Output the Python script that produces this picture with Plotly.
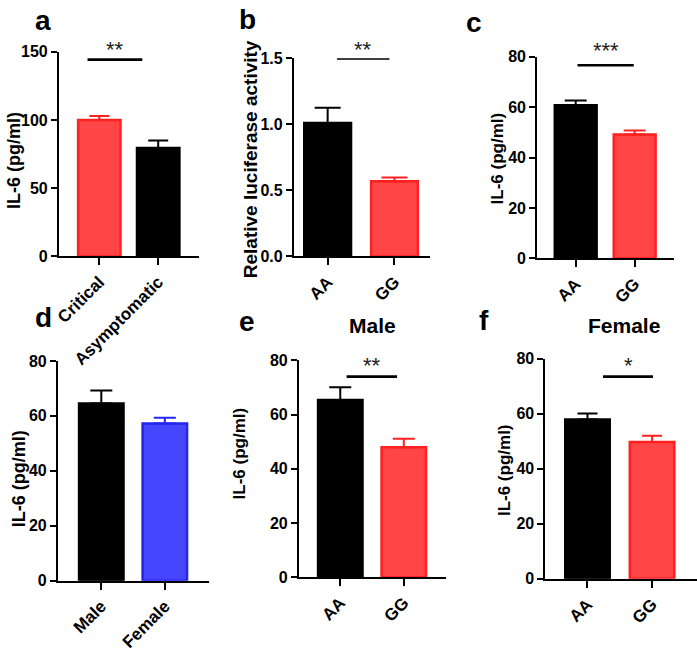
import plotly.graph_objects as go

W, H = 697, 655
FONT = 'Liberation Sans, Arial, sans-serif'
RED, RED_EDGE = '#FF4545', '#FF2020'
BLUE, BLUE_EDGE = '#4646FF', '#2525F2'
BLACK = '#000000'

# ---- values (mean, upper SEM) ----
sev_groups = ['Critical', 'Asymptomatic']
sev_il6 = [100.0, 79.4]
sev_sem = [2.9, 5.6]

luc_groups = ['AA', 'GG']
luc_activity = [1.01, 0.57]
luc_sem = [0.115, 0.027]

geno_groups = ['AA', 'GG']
geno_il6 = [60.7, 49.1]
geno_sem = [1.9, 1.6]

sex_groups = ['Male', 'Female']
sex_il6 = [64.5, 57.2]
sex_sem = [4.7, 2.1]

male_il6 = [65.4, 47.9]
male_sem = [4.7, 3.2]

female_il6 = [57.9, 49.7]
female_sem = [2.2, 2.3]

# significance brackets: x from, x to, height, stars
sig_a = ([-0.2, 0.73], 144.3, '**')
sig_b = ([0.14, 0.925], 1.5, '**')
sig_c = ([0.03, 0.985], 76.6, '***')
sig_e = ([0.10, 0.895], 74.0, '**')
sig_f = ([0.24, 1.015], 73.5, '*')

panels = [
    dict(letter='a', groups=sev_groups, vals=sev_il6, sem=sev_sem,
         fill=[RED, BLACK], edge=[RED_EDGE, BLACK], yr=[0, 150], dtick=50, fmt='',
         sig=sig_a, ytitle='IL-6 (pg/ml)', title=None,
         box=(54.3, 195, 45, 255), xr=[-0.686, 1.686], bw=0.72, cap=10,
         ypos=(9, 156), ysize=18, lpos=(38, 12), tpos=None, star_dy=16),
    dict(letter='b', groups=luc_groups, vals=luc_activity, sem=luc_sem,
         fill=[BLACK, RED], edge=[BLACK, RED_EDGE], yr=[0, 1.5], dtick=0.5, fmt='.1f',
         sig=sig_b, ytitle='Relative luciferase activity', title=None,
         box=(291, 428.3, 51.7, 255), xr=[-0.505, 1.535], bw=0.70, cap=13,
         ypos=(248, 155), ysize=19, lpos=(244, 11), tpos=None, star_dy=15),
    dict(letter='c', groups=geno_groups, vals=geno_il6, sem=geno_sem,
         fill=[BLACK, RED], edge=[BLACK, RED_EDGE], yr=[0, 80], dtick=20, fmt='',
         sig=sig_c, ytitle='IL-6 (pg/ml)', title=None,
         box=(536, 674, 50, 257), xr=[-0.654, 1.670], bw=0.71, cap=11,
         ypos=(496, 154), ysize=17, lpos=(472, 14), tpos=None, star_dy=21),
    dict(letter='d', groups=sex_groups, vals=sex_il6, sem=sex_sem,
         fill=[BLACK, BLUE], edge=[BLACK, BLUE_EDGE], yr=[0, 80], dtick=20, fmt='',
         sig=None, ytitle='IL-6 (pg/ml)', title=None,
         box=(53.3, 205, 362.3, 588), xr=[-0.683, 1.688], bw=0.70, cap=11,
         ypos=(15, 483), ysize=18, lpos=(39, 317), tpos=None, star_dy=0),
    dict(letter='e', groups=geno_groups, vals=male_il6, sem=male_sem,
         fill=[BLACK, RED], edge=[BLACK, RED_EDGE], yr=[0, 80], dtick=20, fmt='',
         sig=sig_e, ytitle='IL-6 (pg/ml)', title='Male',
         box=(296, 444, 361.7, 584.3), xr=[-0.652, 1.662], bw=0.70, cap=11,
         ypos=(236, 457), ysize=17, lpos=(244, 321), tpos=(370, 326), star_dy=17),
    dict(letter='f', groups=geno_groups, vals=female_il6, sem=female_sem,
         fill=[BLACK, RED], edge=[BLACK, RED_EDGE], yr=[0, 80], dtick=20, fmt='',
         sig=sig_f, ytitle='IL-6 (pg/ml)', title='Female',
         box=(544.3, 697, 360, 586), xr=[-0.652, 1.696], bw=0.69, cap=10,
         ypos=(503, 474), ysize=17, lpos=(482, 320), tpos=(623, 326), star_dy=17),
]


def px(x):
    return x / W


def py(y):
    return 1 - y / H


fig = go.Figure()
annotations = []
ytick_font = dict(family=FONT, size=16, color='black', weight='bold')
xtick_font = dict(family=FONT, size=17, color='black', weight='bold')

for i, p in enumerate(panels, start=1):
    xa = 'x' if i == 1 else f'x{i}'
    ya = 'y' if i == 1 else f'y{i}'
    # one trace per bar so each gets its own error-bar colour
    for j, g in enumerate(p['groups']):
        fig.add_trace(go.Bar(
            x=[j], y=[p['vals'][j]], width=p['bw'],
            marker=dict(color=p['fill'][j], line=dict(color=p['edge'][j], width=2.5)),
            error_y=dict(type='data', symmetric=False, array=[p['sem'][j]],
                         arrayminus=[0], color=p['edge'][j], thickness=2, width=p['cap']),
            xaxis=xa, yaxis=ya, showlegend=False,
        ))
    if p['sig']:
        sx, sy, stars = p['sig']
        fig.add_trace(go.Scatter(
            x=sx, y=[sy, sy], mode='lines', line=dict(color=BLACK, width=2.7),
            xaxis=xa, yaxis=ya, showlegend=False, cliponaxis=False,
        ))
        annotations.append(dict(
            x=sum(sx) / 2, y=sy, xref=xa, yref=ya, text=stars, showarrow=False,
            yanchor='middle', yshift=p['star_dy'] - 6,
            font=dict(family=FONT, size=22, color='#222222'),
        ))

    x0, x1, top, bottom = p['box']
    fig.update_layout({
        ('xaxis' if i == 1 else f'xaxis{i}'): dict(
            domain=[px(x0), min(px(x1), 1)], anchor=ya, range=p['xr'],
            tickvals=list(range(len(p['groups']))), ticktext=p['groups'],
            tickangle=-45, tickfont=xtick_font,
            showline=True, linecolor=BLACK, linewidth=2,
            ticks='outside', ticklen=7, tickwidth=2, tickcolor=BLACK,
            showgrid=False, zeroline=False, fixedrange=True,
        ),
        ('yaxis' if i == 1 else f'yaxis{i}'): dict(
            domain=[py(bottom), py(top)], anchor=xa, range=p['yr'],
            dtick=p['dtick'], tickformat=p['fmt'], tickfont=ytick_font,
            showline=True, linecolor=BLACK, linewidth=2,
            ticks='outside', ticklen=6, tickwidth=2, tickcolor=BLACK,
            showgrid=False, zeroline=False, fixedrange=True,
        ),
    })

    annotations.append(dict(
        x=px(p['ypos'][0]), y=py(p['ypos'][1]), xref='paper', yref='paper',
        text=p['ytitle'], textangle=-90, showarrow=False,
        xanchor='center', yanchor='middle',
        font=dict(family=FONT, size=p['ysize'], color=BLACK, weight='bold'),
    ))
    annotations.append(dict(
        x=px(p['lpos'][0]), y=py(p['lpos'][1]), xref='paper', yref='paper',
        text=p['letter'], showarrow=False, xanchor='center', yanchor='middle',
        height=20, valign='middle',
        font=dict(family=FONT, size=28, color=BLACK, weight='bold'),
    ))
    if p['title']:
        annotations.append(dict(
            x=px(p['tpos'][0]), y=py(p['tpos'][1]), xref='paper', yref='paper',
            text=p['title'], showarrow=False, xanchor='center', yanchor='middle',
            font=dict(family=FONT, size=21, color=BLACK, weight='bold'),
        ))

fig.update_layout(
    width=W, height=H,
    margin=dict(l=0, r=0, t=0, b=0),
    paper_bgcolor='white', plot_bgcolor='white',
    barmode='overlay', showlegend=False,
    annotations=annotations,
)

# the page body has a default 8px margin; drop it so the figure fills the window
fig.write_html('out.html', config={'displayModeBar': False},
               post_script="document.body.style.margin='0';")
